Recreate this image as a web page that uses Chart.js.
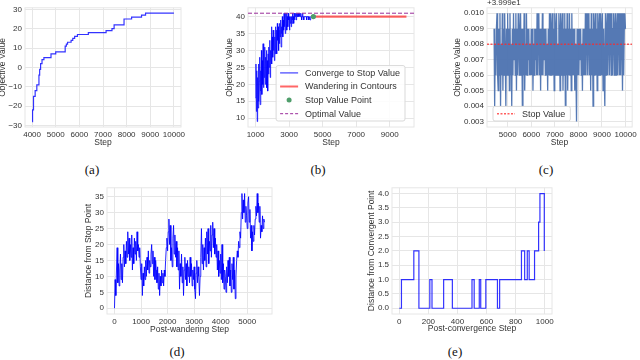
<!DOCTYPE html>
<html>
<head>
<meta charset="utf-8">
<script src="https://cdn.jsdelivr.net/npm/chart.js@4.4.1/dist/chart.umd.min.js"></script>
<style>
  html, body { margin: 0; padding: 0; background: #fff; }
  #page { position: relative; width: 640px; height: 360px; overflow: hidden; }
  #page canvas { position: absolute; }
  .sub { position: absolute; font-family: 'Liberation Serif', 'DejaVu Serif', serif; font-size: 13px; color: #111; transform: translate(-50%, -50%); }
</style>
</head>
<body>
<div id="page">
  <canvas id="chartA" width="192" height="148" style="left:-2px;top:0px"></canvas>
  <canvas id="chartB" width="200" height="148" style="left:225px;top:0px"></canvas>
  <canvas id="chartC" width="187" height="148" style="left:453px;top:0px"></canvas>
  <canvas id="chartD" width="200" height="155" style="left:84px;top:180px"></canvas>
  <canvas id="chartE" width="200" height="154" style="left:367px;top:180px"></canvas>
  <div class="sub" style="left:92px;top:170px">(a)</div>
  <div class="sub" style="left:318px;top:170px">(b)</div>
  <div class="sub" style="left:546px;top:170px">(c)</div>
  <div class="sub" style="left:177px;top:352px">(d)</div>
  <div class="sub" style="left:455px;top:352px">(e)</div>
</div>
<script>
// (a) best objective so far, step function
const aSteps = [4000, 4020, 4060, 4130, 4200, 4290, 4320, 4360, 4420, 4500, 4800, 5000, 5400, 5450, 5500, 5650, 5720, 5800, 5920, 6380, 7130, 7380, 7470, 7890, 8210, 8630, 8800, 10000]
const aObjective = [-28, -22, -15, -12, -9, -4, -1, 2, 4, 5, 7, 8, 11, 12, 13, 14, 15, 16, 17, 18, 19, 20, 22, 25, 26, 27, 28, 28]
const aStepTicks = [4000, 5000, 6000, 7000, 8000, 9000, 10000]
const aValueTicks = [-30, -20, -10, 0, 10, 20, 30]

// (b) converge phase, one value every 25 steps from step 1000
const bFirstStep = 1000
const bStepEvery = 25
const bObjective = [
  16, 26, 12, 24, 9, 22, 13, 26, 15, 21, 28, 14, 24, 18, 30, 17, 27, 20, 32, 19, 29,
  22, 31, 20, 28, 24, 30, 19, 27, 18, 29, 23, 31, 25, 33, 22, 30, 27, 37, 26, 34,
  28, 36, 30, 35, 27, 34, 29, 37, 31, 36, 29, 38, 33, 37, 30, 36, 32, 38, 34, 39,
  31, 37, 35, 40, 34, 39, 36, 41, 37, 40, 35, 41, 38, 41, 36, 40, 37, 41, 39, 40,
  36, 39, 38, 40, 37, 40, 38, 41, 39, 40, 38, 41, 39, 41, 40, 41, 39, 41, 40, 41,
  40, 41, 40, 41, 40, 41, 40, 41, 40, 39, 40, 41, 40, 40, 39, 40, 40, 40, 40, 40,
  40, 39, 40, 40, 40, 40, 39, 40, 40, 39, 40, 40, 40, 40, 40, 40, 40, 40
]
const bStopStep = 4450
const bStopValue = 40
const bLastStep = 10000
const bOptimalValue = 41
const bStepTicks = [1000, 3000, 5000, 7000, 9000]
const bValueTicks = [10, 15, 20, 25, 30, 35, 40]

// (c) wandering phase, offset from 39.99 in thousandths, one value every 25 steps
const cFirstStep = 4420
const cStepEvery = 25
const cOffsetBase = '+3.999e1'
const cObjectiveMilli = [
  9, 4, 8, 6, 9, 10, 6, 5,   9, 6, 10, 4, 8, 6, 10, 5,   9, 6, 10, 7, 4, 9, 6, 10,
  6, 9, 5, 10, 6, 8, 4, 9,   6, 10, 7, 9, 6, 10, 5, 9,   6, 10, 8, 6, 9, 10, 6, 9,
  4, 9, 6, 10, 5, 8, 6, 10,  6, 9, 7, 9, 6, 8, 6, 9,     6, 9, 5, 8, 6, 9, 7, 9,
  6, 10, 6, 9, 10, 6, 9, 5,  9, 6, 10, 6, 9, 7, 9, 6,    9, 6, 8, 5, 9, 6, 10, 6,
  10, 6, 9, 10, 6, 9, 5, 10, 6, 9, 10, 6, 8, 6, 10, 9,   5, 10, 6, 9, 10, 5, 9, 6,
  10, 4, 9, 6, 10, 5, 9, 6,  10, 6, 9, 5, 10, 6, 9, 6,   9, 5, 8, 6, 3, 9, 6, 9,
  6, 9, 7, 9, 6, 8, 5, 9,    6, 9, 6, 10, 6, 9, 10, 6,   9, 10, 6, 9, 5, 10, 6, 9,
  4, 10, 6, 9, 10, 6, 9, 5,  10, 6, 9, 10, 6, 10, 9, 6,  10, 5, 9, 6, 4, 10, 6, 9,
  10, 6, 9, 10, 6, 10, 9, 6, 10, 6, 9, 10, 6, 9, 10, 6,  9, 10, 6, 10, 9, 6, 10, 6,
  10, 9, 5, 10, 6, 9, 10, 9
]
const cStopValue = 0.008
const cStepTicks = [5000, 6000, 7000, 8000, 9000, 10000]
const cValueTicks = [0.003, 0.004, 0.005, 0.006, 0.007, 0.008, 0.009, 0.010]

// (d) distance from stop point, one value every 25 steps
const dStepEvery = 25
const dDistance = [
  0, 9, 4, 12, 19, 8, 14, 7,      12, 17, 9, 14, 8, 16, 20, 13,   18, 14, 21, 16, 24, 17, 22, 15,
  20, 16, 23, 12, 19, 14, 22, 17,  21, 15, 24, 18, 20, 16, 19, 13,  9, 14, 4, 11, 7, 13, 9, 15,
  10, 16, 12, 18, 11, 15, 13, 17,  20, 14, 18, 10, 16, 9, 15, 12,   8, 13, 6, 11, 4, 10, 7, 12,
  8, 11, 7, 12, 10, 15, 19, 22,    18, 24, 28, 20, 26, 15, 19, 13,  22, 26, 17, 23, 16, 21, 13, 19,
  12, 18, 6, 14, 10, 17, 8, 13,    4, 12, 16, 9, 14, 7, 15, 10,     13, 8, 16, 10, 14, 7, 12, 9,
  13, 6, 3, 11, 15, 8, 13, 10,     4, 10, 16, 25, 14, 20, 12, 19,   15, 22, 13, 24, 17, 25, 14, 21,
  18, 26, 16, 23, 27, 19, 25, 17,  22, 16, 20, 12, 18, 10, 15, 11,  17, 9, 20, 8, 14, 6, 12, 10,
  5, 13, 8, 15, 10, 16, 7, 12,     5, 14, 9, 16, 6, 12, 3, 10,      15, 18, 16, 21, 19, 24, 22, 30,
  36, 28, 34, 30, 36, 27, 32, 29,  25, 33, 35, 27, 31, 22, 26, 18,  24, 21, 26, 23, 28, 32, 29, 36,
  30, 33, 27, 32, 22, 26, 24, 29,  25, 28, 27
]
const dStepTicks = [0, 1000, 2000, 3000, 4000, 5000]
const dValueTicks = [0, 5, 10, 15, 20, 25, 30, 35]

// (e) distance from convergent point, step function
const eSteps = [0, 15, 100, 135, 210, 225, 305, 365, 500, 515, 550, 560, 595, 675, 690, 840, 862, 880, 893, 930, 958, 967, 997]
const eDistance = [0, 1, 2, 0, 1, 0, 1, 0, 1, 0, 1, 0, 1, 0, 1, 2, 1, 2, 1, 2, 3, 4, 2]
const eStepTicks = [0, 200, 400, 600, 800, 1000]
const eValueTicks = [0, 0.5, 1, 1.5, 2, 2.5, 3, 3.5, 4]

const TEXT = '#333'
const GRID = '#e6e6e6'
const BLUE = 'rgba(0,0,255,0.8)'
const PURPLE = '#9a2c9a'
const FONT = "'Liberation Sans', Arial, sans-serif"

Chart.defaults.font.family = FONT
Chart.defaults.font.size = 8
Chart.defaults.color = TEXT

const framePlugin = {
  id: 'frame',
  beforeDatasetsDraw(chart) {
    const { ctx, chartArea: a } = chart
    ctx.save()
    ctx.strokeStyle = GRID
    ctx.lineWidth = 1
    ctx.strokeRect(a.left, a.top, a.width, a.height)
    ctx.restore()
  }
}

// matplotlib-style legend box drawn inside the plot
const boxLegendPlugin = {
  id: 'boxLegend',
  afterDatasetsDraw(chart, args, opts) {
    if (!opts.items) return
    const { ctx, chartArea: a } = chart
    const rowH = 13.6
    ctx.save()
    ctx.font = '9px ' + FONT
    const textW = Math.max(...opts.items.map((it) => ctx.measureText(it.label).width))
    const w = 29 + textW + 5
    const h = opts.items.length * rowH + 1
    const x = opts.corner === 'bl' ? a.left + opts.inset : a.right - opts.inset - w
    const y = a.bottom - opts.insetBottom - h
    ctx.beginPath()
    ctx.roundRect(x, y, w, h, 2)
    ctx.fillStyle = 'rgba(255,255,255,0.85)'
    ctx.fill()
    ctx.strokeStyle = '#d9d9d9'
    ctx.lineWidth = 1
    ctx.stroke()
    opts.items.forEach((it, i) => {
      const cy = y + 0.5 + rowH * (i + 0.5)
      ctx.strokeStyle = it.color
      ctx.fillStyle = it.color
      if (it.dot) {
        ctx.beginPath()
        ctx.arc(x + 13, cy, 2.5, 0, Math.PI * 2)
        ctx.fill()
      } else {
        ctx.lineWidth = it.width || 1
        ctx.setLineDash(it.dash || [])
        ctx.beginPath()
        ctx.moveTo(x + 4, cy)
        ctx.lineTo(x + 22, cy)
        ctx.stroke()
        ctx.setLineDash([])
      }
      ctx.fillStyle = TEXT
      ctx.textBaseline = 'middle'
      ctx.fillText(it.label, x + 29, cy + 0.5)
    })
    ctx.restore()
  }
}

const offsetTextPlugin = {
  id: 'offsetText',
  afterDraw(chart, args, opts) {
    if (!opts.text) return
    const { ctx, chartArea: a } = chart
    ctx.save()
    ctx.font = '8px ' + FONT
    ctx.fillStyle = TEXT
    ctx.textBaseline = 'bottom'
    ctx.fillText(opts.text, a.left, a.top - 1)
    ctx.restore()
  }
}

function minusSign(v) {
  return String(v).replace('-', '\u2212')
}

function axis(spec, size, isX) {
  return {
    type: 'linear',
    min: spec.min,
    max: spec.max,
    grid: { color: GRID, lineWidth: 1, drawTicks: false },
    border: { display: false },
    ticks: { padding: 3, maxRotation: 0, autoSkip: false, callback: spec.fmt || minusSign },
    title: { display: true, text: spec.title, padding: 0, font: { size: 8.5 } },
    afterBuildTicks: (s) => { s.ticks = spec.ticks.map((v) => ({ value: v })) },
    afterFit: (s) => { if (isX) s.height = size; else s.width = size }
  }
}

function makePanel(canvasId, cfg) {
  return new Chart(document.getElementById(canvasId).getContext('2d'), {
    type: 'line',
    data: { datasets: cfg.datasets },
    options: {
      responsive: false,
      animation: false,
      events: [],
      layout: { padding: cfg.padding },
      elements: { point: { radius: 0 }, line: { tension: 0 } },
      plugins: {
        legend: { display: false },
        tooltip: { enabled: false },
        boxLegend: cfg.legend || {},
        offsetText: { text: cfg.offsetText }
      },
      scales: {
        x: axis(cfg.x, cfg.xHeight, true),
        y: axis(cfg.y, cfg.yWidth, false)
      }
    },
    plugins: [framePlugin, boxLegendPlugin, offsetTextPlugin]
  })
}

function lineSet(points, color, width, extra) {
  return Object.assign({ data: points, borderColor: color, borderWidth: width, pointRadius: 0, fill: false }, extra || {})
}

// (a)
makePanel('chartA', {
  padding: { top: 2, right: 9, bottom: 0, left: 0 },
  yWidth: 27,
  xHeight: 21,
  x: { min: 3700, max: 10300, ticks: aStepTicks, title: 'Step' },
  y: { min: -30.8, max: 30.8, ticks: aValueTicks, title: 'Objective Value' },
  datasets: [lineSet(aSteps.map((x, i) => ({ x, y: aObjective[i] })), BLUE, 1.2, { stepped: true })]
})

// (b)
const bMin = 550
const bMax = 10450
makePanel('chartB', {
  padding: { top: 1, right: 11, bottom: 0, left: 0 },
  yWidth: 23,
  xHeight: 21,
  x: { min: bMin, max: bMax, ticks: bStepTicks, title: 'Step' },
  y: { min: 7.4, max: 42.6, ticks: bValueTicks, title: 'Objective Value' },
  datasets: [
    lineSet(bObjective.map((y, i) => ({ x: bFirstStep + i * bStepEvery, y })), 'rgba(0,0,255,0.75)', 1, { order: 3 }),
    lineSet([{ x: bStopStep, y: bStopValue }, { x: bLastStep, y: bStopValue }], 'rgba(255,0,0,0.6)', 2.2, { order: 2 }),
    { data: [{ x: bStopStep, y: bStopValue }], showLine: false, pointRadius: 2.6, pointBackgroundColor: '#4f9e6b', pointBorderWidth: 0, order: 1 },
    lineSet([{ x: bMin, y: bOptimalValue }, { x: bMax, y: bOptimalValue }], PURPLE, 1, { borderDash: [4, 2], order: 0 })
  ],
  legend: {
    corner: 'br',
    inset: 9,
    insetBottom: 6,
    items: [
      { label: 'Converge to Stop Value', color: 'rgba(0,0,255,0.75)', width: 1.2 },
      { label: 'Wandering in Contours', color: 'rgba(255,0,0,0.6)', width: 2 },
      { label: 'Stop Value Point', color: '#4f9e6b', dot: true },
      { label: 'Optimal Value', color: PURPLE, width: 1, dash: [3, 2] }
    ]
  }
})

// (c)
const cMin = 4120
const cMax = 10280
makePanel('chartC', {
  padding: { top: 7, right: 7, bottom: 0, left: 0 },
  yWidth: 34,
  xHeight: 21,
  offsetText: cOffsetBase,
  x: { min: cMin, max: cMax, ticks: cStepTicks, title: 'Step' },
  y: { min: 0.00265, max: 0.01035, ticks: cValueTicks, title: 'Objective Value', fmt: (v) => v.toFixed(3) },
  datasets: [
    lineSet([{ x: cMin, y: cStopValue }, { x: cMax, y: cStopValue }], 'rgba(255,40,40,0.75)', 1.5, { borderDash: [2, 1.5], order: 0 }),
    lineSet(cObjectiveMilli.map((v, i) => ({ x: cFirstStep + i * cStepEvery, y: v / 1000 })), 'rgba(76,114,176,0.95)', 1.3, { order: 1 })
  ],
  legend: {
    corner: 'bl',
    inset: 6,
    insetBottom: 6,
    items: [{ label: 'Stop Value', color: 'rgba(255,40,40,0.75)', width: 1.5, dash: [2, 1.5] }]
  }
})

// (d)
makePanel('chartD', {
  padding: { top: 7, right: 12, bottom: 0, left: 0 },
  yWidth: 23,
  xHeight: 21,
  x: { min: -282, max: 5932, ticks: dStepTicks, title: 'Post-wandering Step' },
  y: { min: -1.8, max: 37.8, ticks: dValueTicks, title: 'Distance from Stop Point' },
  datasets: [lineSet(dDistance.map((y, i) => ({ x: i * dStepEvery, y })), 'rgba(0,0,255,0.85)', 1)]
})

// (e)
makePanel('chartE', {
  padding: { top: 7, right: 15, bottom: 0, left: 0 },
  yWidth: 25,
  xHeight: 20,
  x: { min: -50, max: 1050, ticks: eStepTicks, title: 'Post-convergence Step' },
  y: { min: -0.2, max: 4.2, ticks: eValueTicks, title: 'Distance from Convergent Point', fmt: (v) => v.toFixed(1) },
  datasets: [lineSet(eSteps.map((x, i) => ({ x, y: eDistance[i] })), BLUE, 1.2, { stepped: true })]
})
</script>
</body>
</html>
